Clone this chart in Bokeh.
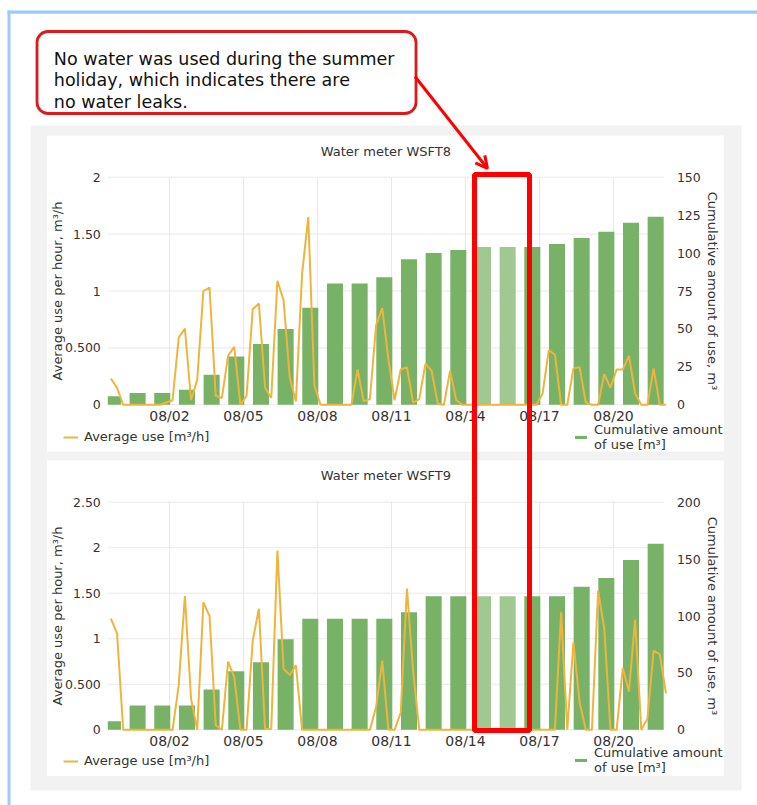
import pandas as pd
from bokeh.plotting import figure
from bokeh.models import (Range1d, LinearAxis, DatetimeAxis, FixedTicker, DatetimeTickFormatter,
                          ColumnDataSource, BoxAnnotation, Arrow, OpenHead, Legend, LegendItem, Label)
from bokeh.core.properties import value
from bokeh.embed import file_html
from bokeh.resources import INLINE

# ---------------- data ----------------
callout_lines = ["No water was used during the summer",
                 "holiday, which indicates there are",
                 "no water leaks."]
titles = ["Water meter WSFT8", "Water meter WSFT9"]
left_label = "Average use per hour, m³/h"
right_label = "Cumulative amount of use, m³"
line_legend = "Average use [m³/h]"
bar_legend = "Cumulative amount\nof use [m³]"

# daily cumulative bars (07/31 .. 08/22)
bar_dates = pd.date_range("2021-07-31", "2021-08-22", freq="D")
holiday_dates = ["2021-08-15", "2021-08-16"]
wsft8_cum = [5.7, 7.7, 7.7, 9.9, 19.8, 31.8, 40.0, 50.0, 64.0, 80.0, 80.0, 84.0,
             96.0, 100.0, 102.0, 104.0, 104.0, 104.0, 106.0, 110.0, 114.0, 120.0, 124.0]
wsft9_cum = [7.6, 21.4, 21.4, 21.4, 35.4, 51.5, 59.4, 79.6, 97.5, 97.5, 97.5, 97.5,
             103.4, 117.4, 117.4, 117.4, 117.4, 117.4, 117.4, 125.6, 133.5, 149.3, 163.4]

# 6-hourly average use (from 07/30 15:00)
line_times = pd.date_range("2021-07-30 15:00", periods=91, freq="6h")
wsft8_avg = [
    0.23, 0.15,
    0.00, 0.00, 0.00, 0.00,
    0.00, 0.00, 0.00, 0.02,
    0.04, 0.59, 0.67, 0.04,
    0.22, 1.00, 1.03, 0.08,
    0.06, 0.43, 0.51, 0.00,
    0.08, 0.84, 0.89, 0.15,
    0.06, 1.09, 0.92, 0.24,
    0.03, 1.15, 1.65, 0.17,
    0.00, 0.00, 0.00, 0.00,
    0.00, 0.00, 0.31, 0.03,
    0.05, 0.70, 0.85, 0.40,
    0.04, 0.31, 0.33, 0.02,
    0.05, 0.36, 0.30, 0.01,
    0.00, 0.30, 0.04, 0.00,
    0.00, 0.00, 0.00, 0.00,
    0.00, 0.00, 0.00, 0.00,
    0.00, 0.00, 0.00, 0.00,
    0.10, 0.48, 0.44, 0.00,
    0.00, 0.32, 0.33, 0.02,
    0.00, 0.00, 0.27, 0.15,
    0.31, 0.31, 0.43, 0.10,
    0.00, 0.00, 0.32, 0.00,
    0.00,
]
wsft9_avg = [
    1.22, 1.06,
    0.00, 0.00, 0.00, 0.00,
    0.00, 0.00, 0.00, 0.00,
    0.00, 0.49, 1.47, 0.34,
    0.00, 1.40, 1.25, 0.05,
    0.00, 0.75, 0.58, 0.00,
    0.00, 0.98, 1.33, 0.01,
    0.01, 1.97, 0.67, 0.60,
    0.71, 0.00, 0.00, 0.00,
    0.00, 0.00, 0.00, 0.00,
    0.00, 0.00, 0.00, 0.00,
    0.00, 0.25, 0.76, 0.00,
    0.00, 0.19, 1.55, 0.65,
    0.00, 0.00, 0.00, 0.00,
    0.00, 0.00, 0.00, 0.00,
    0.00, 0.00, 0.00, 0.00,
    0.00, 0.00, 0.00, 0.00,
    0.00, 0.00, 0.00, 0.00,
    0.00, 0.00, 0.00, 1.29,
    0.00, 0.96, 0.30, 0.00,
    0.00, 1.53, 1.11, 0.00,
    0.00, 0.68, 0.42, 1.21,
    0.00, 0.12, 0.87, 0.83,
    0.40,
]

x_tick_dates = ["2021-08-02", "2021-08-05", "2021-08-08", "2021-08-11",
                "2021-08-14", "2021-08-17", "2021-08-20"]
left_ticks = [[0, 0.5, 1, 1.5, 2], [0, 0.5, 1, 1.5, 2, 2.5]]
left_tick_labels = [["0", "0.500", "1", "1.50", "2"], ["0", "0.500", "1", "1.50", "2", "2.50"]]
right_ticks = [[0, 25, 50, 75, 100, 125, 150], [0, 50, 100, 150, 200]]
plot_start, plot_end = "2021-07-30 12:00", "2021-08-22 01:00"

# ---------------- layout / style ----------------
W, H = 757, 805
FONT = "DejaVu Sans"
TXT = "#333333"
GREEN, GREEN_LIGHT = "#78b266", "#9fc991"
ORANGE = "#efb43c"
RED = "#ff0000"
GRID = "#e9e9e9"
X_LEFT, X_RIGHT = 107.3, 663.4          # page x of the chart frames
charts = [dict(y0=404.3, ytop=176.7, title_y=150.5, leg_y=361, leg2_y=353),
          dict(y0=729.3, ytop=501.7, title_y=475.0, leg_y=37, leg2_y=30)]
bar_offset = pd.Timedelta(hours=7)
bar_width = pd.Timedelta(hours=15.6)


def ms(t):
    return pd.Timestamp(t).value / 1e6


def full_range(v0, v1, p0, p1, total):
    k = (v1 - v0) / (p1 - p0)
    return Range1d(start=v0 - p0 * k, end=v0 + (total - p0) * k)


p = figure(width=W, height=H, x_range=Range1d(0, W), y_range=Range1d(H, 0),
           output_backend="svg", toolbar_location=None, x_axis_type=None, y_axis_type=None,
           min_border=0, title=None)
p.outline_line_color = None
p.background_fill_color = "white"
p.border_fill_color = "white"

p.extra_x_ranges = {"date": full_range(ms(plot_start), ms(plot_end), X_LEFT, X_RIGHT, W)}
yr = {}
for i, c in enumerate(charts):
    lmax = left_ticks[i][-1]
    rmax = right_ticks[i][-1]
    yr[f"L{i}"] = full_range(0, lmax, H - c["y0"], H - c["ytop"], H)
    yr[f"R{i}"] = full_range(0, rmax, H - c["y0"], H - c["ytop"], H)
p.extra_y_ranges = yr


def box(l, r, t, b, **kw):
    kw.setdefault("line_color", None)
    kw.setdefault("fill_alpha", 1)
    kw.setdefault("line_alpha", 1)
    p.add_layout(BoxAnnotation(left=l, right=r, top=t, bottom=b, **kw))


# page decoration
box(7, W, 10, 13.3, fill_color="#9ccbf8", level="underlay")
box(7, 10, 10, H, fill_color="#9ccbf8", level="underlay")
box(30, 741, 125, 790, fill_color="#f1f2f1", level="underlay")
box(46.5, 723.3, 135, 451, fill_color="white", level="underlay")
box(46.5, 723.3, 460, 775.5, fill_color="white", level="underlay")
# callout box
box(36.5, 415.5, 31, 113, fill_color="white", line_color="#dd1a1a", line_width=2.8,
    border_radius=11, level="underlay")

xt = [ms(d) for d in x_tick_dates]
series = [(wsft8_cum, wsft8_avg), (wsft9_cum, wsft9_avg)]
hol = set(pd.to_datetime(holiday_dates))

for i, c in enumerate(charts):
    cum, avg = series[i]
    L, R = f"L{i}", f"R{i}"
    lt = left_ticks[i]
    # grid
    p.segment(x0=[ms(plot_start)] * len(lt), x1=[ms(plot_end)] * len(lt), y0=lt, y1=lt,
              x_range_name="date", y_range_name=L, line_color=GRID, line_width=1)
    p.segment(x0=xt, x1=xt, y0=[0] * len(xt), y1=[lt[-1]] * len(xt),
              x_range_name="date", y_range_name=L, line_color=GRID, line_width=1)
    # bars
    centers = bar_dates - bar_offset
    lefts = [max(ms(t - bar_width / 2), ms(plot_start)) for t in centers]
    rights = [ms(t + bar_width / 2) for t in centers]
    colors = [GREEN_LIGHT if d in hol else GREEN for d in bar_dates]
    src = ColumnDataSource(dict(left=lefts, right=rights, top=cum, bottom=[0] * len(cum), color=colors))
    rb = p.quad(left="left", right="right", top="top", bottom="bottom", source=src,
                fill_color="color", line_color=None, x_range_name="date", y_range_name=R)
    # line
    rl = p.line(x=line_times, y=avg, x_range_name="date", y_range_name=L,
                line_color=ORANGE, line_width=2)

    # axes
    ya = LinearAxis(x_range_name="date", y_range_name=L, fixed_location=ms(plot_start),
                    ticker=FixedTicker(ticks=lt), bounds=(0, lt[-1]),
                    major_label_overrides=dict(zip(lt, left_tick_labels[i])),
                    axis_label=left_label)
    ya2 = LinearAxis(x_range_name="date", y_range_name=R, fixed_location=ms(plot_end),
                     ticker=FixedTicker(ticks=right_ticks[i]), bounds=(0, right_ticks[i][-1]),
                     axis_label=right_label)
    xa = DatetimeAxis(x_range_name="date", y_range_name=L, fixed_location=0,
                      ticker=FixedTicker(ticks=xt), bounds=(ms(plot_start), ms(plot_end)),
                      formatter=DatetimeTickFormatter(hours="%m/%d", days="%m/%d", months="%m/%d",
                                                      years="%m/%d"))
    for ax in (ya, ya2, xa):
        ax.axis_line_color = None
        ax.major_tick_line_color = None
        ax.minor_tick_line_color = None
        ax.major_label_text_font = FONT
        ax.major_label_text_font_size = "12.5px"
        ax.major_label_text_color = TXT
        ax.axis_label_text_font = FONT
        ax.axis_label_text_font_size = "13px"
        ax.axis_label_text_font_style = "normal"
        ax.axis_label_text_color = TXT
    xa.major_label_text_font_size = "14px"
    xa.major_label_standoff = -3
    ya.major_label_standoff = 1
    ya.axis_label_standoff = -3
    ya2.major_label_standoff = 7
    ya2.axis_label_standoff = 2
    p.add_layout(ya, "left")
    p.add_layout(ya2, "right")
    p.add_layout(xa, "below")

    # title
    p.add_layout(Label(x=(X_LEFT + X_RIGHT) / 2, y=c["title_y"], text=titles[i], text_align="center",
                       text_baseline="middle", text_font=FONT, text_font_size="13px", text_color=TXT))

    # legends
    common = dict(border_line_color=None, background_fill_alpha=0, padding=0, margin=0, spacing=0,
                  glyph_width=15, glyph_height=4, label_standoff=6, label_text_font=FONT,
                  label_text_font_size="13px", label_text_color=TXT, label_height=14,
                  label_text_line_height=1.0)
    p.add_layout(Legend(items=[LegendItem(label=line_legend, renderers=[rl])],
                        location=(63, c["leg_y"]), **common))
    p.add_layout(Legend(items=[LegendItem(label=bar_legend, renderers=[rb], index=0)],
                        location=(573, c["leg2_y"]), **common))

# callout text and arrow
p.text(x=[53.3] * 3, y=[58.3, 79.8, 101.2], text=callout_lines, text_font=value(FONT),
       text_font_size="17.5px", text_baseline="alphabetic", text_color="#111111")
p.add_layout(Arrow(x_start=414.5, y_start=76, x_end=487, y_end=168, line_color=RED, line_width=3,
                   end=OpenHead(size=12, line_color=RED, line_width=3)))

# highlight box
box(474, 529, 174, 730, fill_alpha=0, line_color=RED, line_width=5)

open("out.html", "w").write(file_html(p, INLINE))
